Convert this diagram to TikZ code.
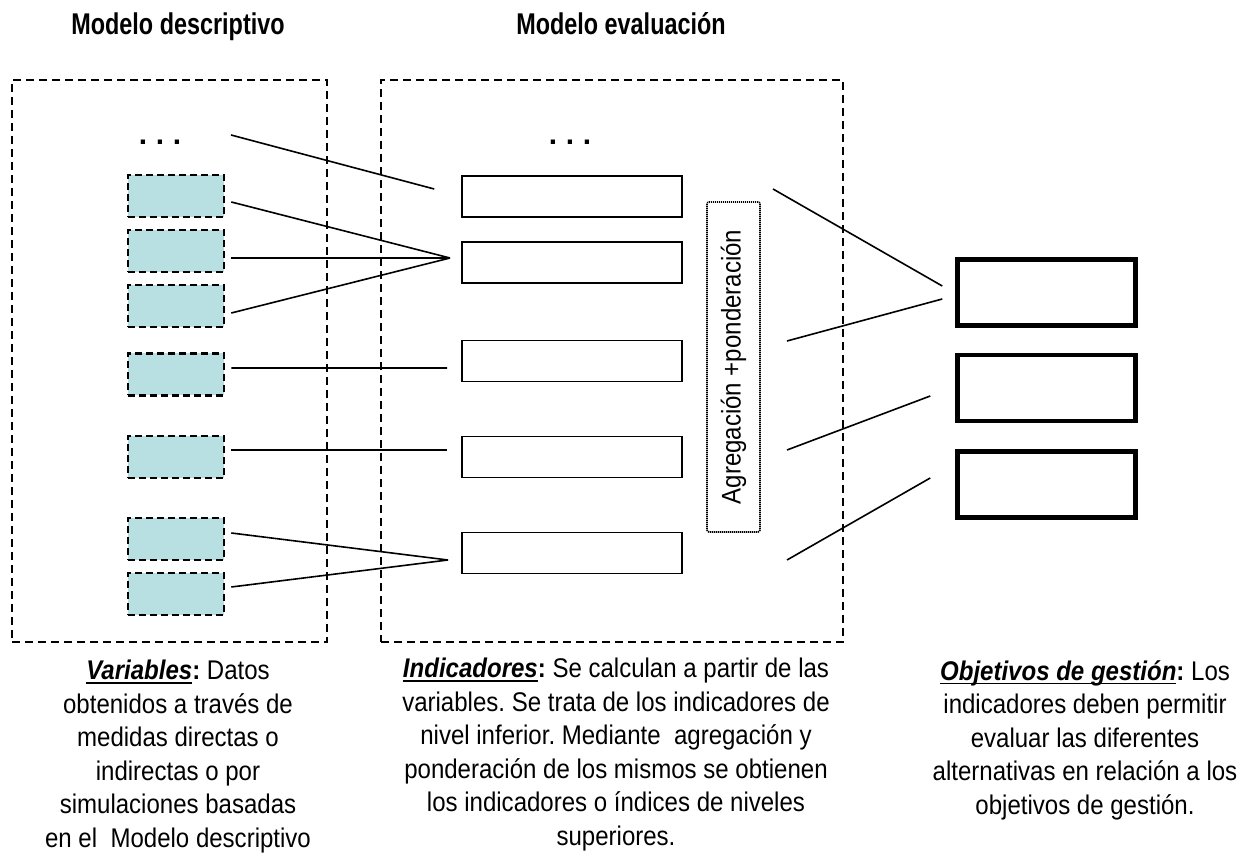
\documentclass[tikz,border=0pt]{standalone}
\usepackage{fontspec}
\setmainfont{Liberation Sans}
\newfontfamily\headfont[FakeStretch=0.78]{Liberation Sans}
\newfontfamily\bodyfont[FakeStretch=0.89]{Liberation Sans}
\newcommand\uword[1]{\setbox0\hbox{#1}\rlap{\rule[-4.3bp]{\wd0}{1.6bp}}\box0}
\definecolor{varfill}{RGB}{184,223,226}
\frenchspacing
\begin{document}
\begin{tikzpicture}[line join=miter,
  modelo/.style={draw,line width=2.6bp,dash pattern=on 8bp off 5bp,inner sep=0pt},
  varbox/.style={draw,fill=varfill,line width=2.6bp,dash pattern=on 7bp off 4bp,minimum width=96bp,minimum height=42bp,inner sep=0pt},
  indbox/.style={draw,line width=1.6bp,minimum width=220bp,minimum height=41bp,inner sep=0pt},
  aggbox/.style={draw,line width=1.6bp,dash pattern=on 1.2bp off 0.8bp,rounded corners=2bp,minimum width=330bp,minimum height=53bp,inner sep=0pt,font=\bodyfont\fontsize{27bp}{30bp}\selectfont},
  objbox/.style={draw,line width=4.5bp,minimum width=178bp,minimum height=66bp,inner sep=0pt},
  link/.style={line width=1.6bp},
  head/.style={font=\headfont\bfseries\fontsize{30bp}{32bp}\selectfont,anchor=base,inner sep=0pt},
  dots/.style={font=\bfseries\fontsize{30bp}{30bp}\selectfont,anchor=base,inner sep=0pt},
  note/.style={font=\bodyfont\fontsize{27bp}{33.5bp}\selectfont\frenchspacing,align=center,anchor=north,inner sep=0pt},
  ]
\useasboundingbox (0,0) rectangle (1247bp,861bp);
%%
\node (head_desc) at (178bp,826bp) [head] {Modelo descriptivo};
\node (head_eval) at (621bp,826bp) [head] {Modelo evaluación};
\node (model_desc) at (169.5bp,500bp) [modelo,minimum width=315bp,minimum height=562bp] {};
\node (model_eval) at (612bp,500bp) [modelo,minimum width=462bp,minimum height=562bp] {};
\node (dots_desc) at (160bp,716bp) [dots] {.\hspace{8.6bp}.\hspace{8.6bp}.};
\node (dots_eval) at (570bp,716bp) [dots] {.\hspace{8.6bp}.\hspace{8.6bp}.};
%
\node (var_1) at (176bp,665bp) [varbox] {};
\node (var_2) at (176bp,610bp) [varbox] {};
\node (var_3) at (176bp,555bp) [varbox] {};
\node (var_4) at (176bp,486.5bp) [varbox] {};
\node (var_5) at (176bp,404bp) [varbox] {};
\node (var_6) at (176bp,322bp) [varbox] {};
\node (var_7) at (176bp,267bp) [varbox] {};
%
\node (ind_1) at (572bp,664.5bp) [indbox] {};
\node (ind_2) at (572bp,598.5bp) [indbox] {};
\node (ind_3) at (572bp,500bp) [indbox] {};
\node (ind_4) at (572bp,404bp) [indbox] {};
\node (ind_5) at (572bp,308bp) [indbox] {};
\node (agg) at (733.5bp,494bp) [aggbox,rotate=90] {Agregación +ponderación};
%
\node (obj_1) at (1046.5bp,568.5bp) [objbox] {};
\node (obj_2) at (1046.5bp,473bp) [objbox] {};
\node (obj_3) at (1046.5bp,376.5bp) [objbox] {};
%
\coordinate (dots_link) at (231bp,726bp);
\coordinate (join_2) at (450bp,603bp);
\coordinate (join_5) at (448bp,301bp);
\coordinate (agg_link_1) at (773bp,672bp);
\coordinate (agg_link_2) at (787bp,520bp);
\coordinate (agg_link_3) at (787bp,411bp);
\coordinate (agg_link_4) at (787bp,301bp);
%
\draw [link] (dots_link) -- ([xshift=-27bp,yshift=7.5bp]ind_1.west);
\draw [link] ([xshift=6bp,yshift=-6bp]var_1.east) -- (join_2);
\draw [link] ([xshift=6bp,yshift=-7bp]var_2.east) -- (join_2);
\draw [link] ([xshift=6bp,yshift=-7bp]var_3.east) -- (join_2);
\draw [link] ([xshift=6bp,yshift=6.5bp]var_4.east) -- ([xshift=-14bp,yshift=-7bp]ind_3.west);
\draw [link] ([xshift=6bp,yshift=7bp]var_5.east) -- ([xshift=-14bp,yshift=7bp]ind_4.west);
\draw [link] ([xshift=6bp,yshift=6bp]var_6.east) -- (join_5);
\draw [link] ([xshift=6bp,yshift=7bp]var_7.east) -- (join_5);
\draw [link] (agg_link_1) -- ([xshift=-13bp,yshift=6.5bp]obj_1.west);
\draw [link] (agg_link_2) -- ([xshift=-13bp,yshift=-6.5bp]obj_1.west);
\draw [link] (agg_link_3) -- ([xshift=-25bp,yshift=-8bp]obj_2.west);
\draw [link] (agg_link_4) -- ([xshift=-25bp,yshift=6.5bp]obj_3.west);
%
\node (var_note) at (178bp,201bp) [note] {\uword{\textbf{\textit{Variables}}}\textbf{:} Datos\\
  obtenidos a través de\\ medidas directas o\\ indirectas o por\\
  simulaciones basadas\\ en el\ \ Modelo descriptivo};
\node (ind_note) at (616bp,203bp) [note] {\uword{\textbf{\textit{Indicadores}}}\textbf{:} Se calculan a partir de las\\
  variables. Se trata de los indicadores de\\ nivel inferior. Mediante\ \ agregación y\\
  ponderación de los mismos se obtienen\\ los indicadores o índices de niveles\\ superiores.};
\node (obj_note) at (1085bp,201bp) [note] {\uword{\textbf{\textit{Objetivos de gestión}}}\textbf{:} Los\\
  indicadores deben permitir\\ evaluar las diferentes\\ alternativas en relación a los\\
  objetivos de gestión.};
%
\end{tikzpicture}
\end{document}
